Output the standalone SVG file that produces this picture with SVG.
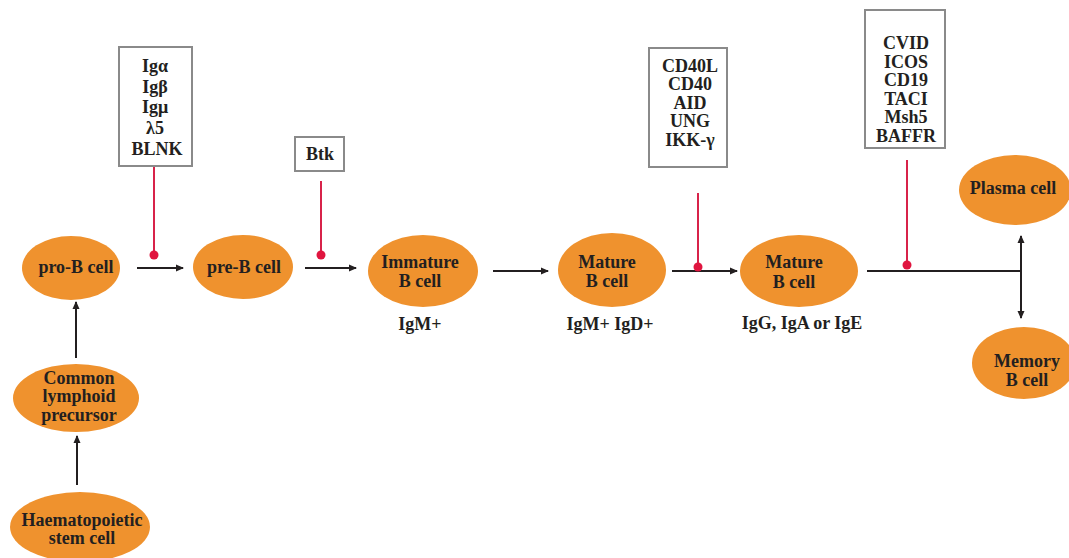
<svg xmlns="http://www.w3.org/2000/svg" width="1069" height="558" viewBox="0 0 1069 558">
<defs>
<marker id="ah" markerWidth="8" markerHeight="8" refX="7" refY="4" orient="auto" markerUnits="userSpaceOnUse">
<path d="M0,0.5 L8,4 L0,7.5 Z" fill="#231F20"/>
</marker>
</defs>
<style>
.cell{fill:#EF922E;}
.t{font-family:"Liberation Serif","Times New Roman",serif;font-weight:bold;font-size:18px;fill:#231F20;text-anchor:middle;}
.box{fill:#fff;stroke:#8a8a8a;stroke-width:2;}
.red{stroke:#D8234A;stroke-width:2;fill:none;}
.dot{fill:#E0153F;}
.arr{stroke:#231F20;stroke-width:2;fill:none;}
</style>
<rect width="1069" height="558" fill="#fff"/>
<g id="connectors">
<line class="arr" x1="137" y1="268" x2="183" y2="268" marker-end="url(#ah)"/>
<line class="arr" x1="305" y1="268" x2="356" y2="268" marker-end="url(#ah)"/>
<line class="arr" x1="493" y1="271" x2="548" y2="271" marker-end="url(#ah)"/>
<line class="arr" x1="672" y1="271" x2="737" y2="271" marker-end="url(#ah)"/>
<line class="arr" x1="867" y1="271" x2="1021" y2="271"/>
<line class="arr" x1="1021" y1="271" x2="1021" y2="236" marker-end="url(#ah)"/>
<line class="arr" x1="1021" y1="271" x2="1021" y2="318" marker-end="url(#ah)"/>
<line class="arr" x1="76" y1="358" x2="76" y2="302" marker-end="url(#ah)"/>
<line class="arr" x1="77" y1="485" x2="77" y2="436" marker-end="url(#ah)"/>
<line class="red" x1="154" y1="166" x2="154" y2="255"/>
<circle class="dot" cx="154" cy="255" r="4.5"/>
<line class="red" x1="321" y1="181" x2="321" y2="255"/>
<circle class="dot" cx="321" cy="255" r="4.5"/>
<line class="red" x1="698" y1="193" x2="698" y2="267"/>
<circle class="dot" cx="698" cy="267" r="4.5"/>
<line class="red" x1="907" y1="160" x2="907" y2="265"/>
<circle class="dot" cx="907" cy="265" r="4.5"/>
</g>
<g id="box-pro">
<rect class="box" x="119" y="47" width="73" height="119"/>
<text class="t" x="155" y="72">Igα</text>
<text class="t" x="155" y="93">Igβ</text>
<text class="t" x="155" y="113">Igμ</text>
<text class="t" x="155" y="134">λ5</text>
<text class="t" x="157" y="155">BLNK</text>
</g>
<g id="box-btk">
<rect class="box" x="295" y="137" width="49" height="34"/>
<text class="t" x="320" y="160">Btk</text>
</g>
<g id="box-cd40">
<rect class="box" x="649" y="48" width="78" height="119"/>
<text class="t" x="690" y="72">CD40L</text>
<text class="t" x="690" y="90">CD40</text>
<text class="t" x="690" y="109">AID</text>
<text class="t" x="690" y="127">UNG</text>
<text class="t" x="690" y="146">IKK-γ</text>
</g>
<g id="box-cvid">
<rect class="box" x="865" y="10" width="80" height="138"/>
<text class="t" x="906" y="49">CVID</text>
<text class="t" x="906" y="68">ICOS</text>
<text class="t" x="906" y="86">CD19</text>
<text class="t" x="906" y="105">TACI</text>
<text class="t" x="906" y="123">Msh5</text>
<text class="t" x="906" y="142">BAFFR</text>
</g>
<g id="pro-b">
<ellipse class="cell" cx="71" cy="268" rx="49" ry="32"/>
<text class="t" x="76" y="273">pro-B cell</text>
</g>
<g id="pre-b">
<ellipse class="cell" cx="243" cy="267" rx="50" ry="32"/>
<text class="t" x="244" y="273">pre-B cell</text>
</g>
<g id="immature">
<ellipse class="cell" cx="423" cy="271" rx="55" ry="36"/>
<text class="t" x="420" y="268">Immature</text>
<text class="t" x="420" y="287">B cell</text>
<text class="t" x="420" y="330">IgM+</text>
</g>
<g id="mature1">
<ellipse class="cell" cx="612" cy="270" rx="54" ry="37"/>
<text class="t" x="607" y="268">Mature</text>
<text class="t" x="607" y="287">B cell</text>
<text class="t" x="610" y="330">IgM+ IgD+</text>
</g>
<g id="mature2">
<ellipse class="cell" cx="799" cy="271" rx="59" ry="36"/>
<text class="t" x="794" y="268">Mature</text>
<text class="t" x="794" y="288">B cell</text>
<text class="t" x="802" y="329">IgG, IgA or IgE</text>
</g>
<g id="plasma">
<ellipse class="cell" cx="1015" cy="190" rx="56" ry="35"/>
<text class="t" x="1013" y="194">Plasma cell</text>
</g>
<g id="memory">
<ellipse class="cell" cx="1024" cy="363" rx="52" ry="36"/>
<text class="t" x="1027" y="367">Memory</text>
<text class="t" x="1027" y="386">B cell</text>
</g>
<g id="clp">
<ellipse class="cell" cx="76" cy="398" rx="63" ry="34"/>
<text class="t" x="79" y="384">Common</text>
<text class="t" x="79" y="402">lymphoid</text>
<text class="t" x="79" y="421">precursor</text>
</g>
<g id="hsc">
<ellipse class="cell" cx="80" cy="527" rx="70" ry="35"/>
<text class="t" x="82" y="526">Haematopoietic</text>
<text class="t" x="82" y="544">stem cell</text>
</g>
</svg>
